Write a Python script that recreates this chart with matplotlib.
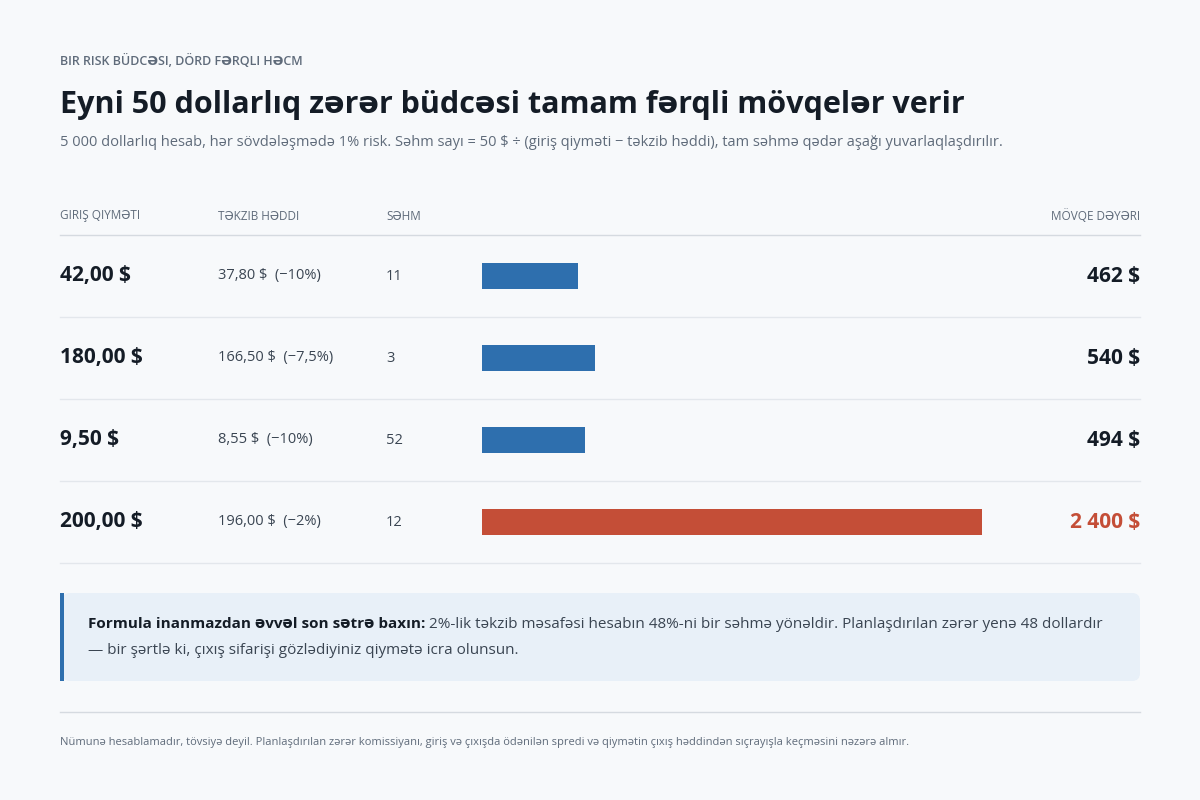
import matplotlib
matplotlib.use('Agg')
import matplotlib.pyplot as plt
from matplotlib.patches import FancyBboxPatch, Rectangle

plt.rcParams['font.family'] = ['Open Sans', 'DejaVu Sans']

entry_labels = ['42,00 $', '180,00 $', '9,50 $', '200,00 $']
stop_labels = ['37,80 $  (\u221210%)', '166,50 $  (\u22127,5%)', '8,55 $  (\u221210%)', '196,00 $  (\u22122%)']
shares = [11, 3, 52, 12]
position_values = [462, 540, 494, 2400]
value_labels = ['462 $', '540 $', '494 $', '2 400 $']
highlight = [False, False, False, True]

BG = '#f7f9fb'
DARK = '#141c26'
GREY = '#5f6b7a'
BLUE = '#2e6fae'
RED = '#c44e37'

fig = plt.figure(figsize=(12, 8), dpi=100, facecolor=BG)
ax = fig.add_axes([0, 0, 1, 1])
ax.set_xlim(0, 1200)
ax.set_ylim(800, 0)
ax.axis('off')

ax.text(60, 61, 'BIR RISK BÜDCƏSI, DÖRD FƏRQLI HƏCM', fontsize=9, color=GREY,
        fontweight='semibold', va='center')
ax.text(60, 105, 'Eyni 50 dollarlıq zərər büdcəsi tamam fərqli mövqelər verir',
        fontsize=22, color=DARK, fontweight='bold', va='center')
ax.text(60, 142, '5 000 dollarlıq hesab, hər sövdələşmədə 1% risk. Səhm sayı = 50 $ ÷ '
        '(giriş qiyməti − təkzib həddi), tam səhmə qədər aşağı yuvarlaqlaşdırılır.',
        fontsize=10.5, color=GREY, va='center')

for x, t in [(60, 'GIRIŞ QIYMƏTI'), (218, 'TƏKZIB HƏDDI'), (386, 'SƏHM')]:
    ax.text(x, 216, t, fontsize=8.5, color=GREY, va='center')
ax.text(1140, 216, 'MÖVQE DƏYƏRI', fontsize=8.5, color=GREY, va='center', ha='right')
ax.plot([60, 1140], [235, 235], color='#d5dae0', lw=1)

row_y = [276, 358, 440, 522]
for i, y in enumerate(row_y):
    ax.text(60, y, entry_labels[i], fontsize=15, fontweight='bold', color=DARK, va='center')
    ax.text(218, y, stop_labels[i], fontsize=10.5, color='#3a4552', va='center')
    ax.text(386, y, str(shares[i]), fontsize=10.5, color='#3a4552', va='center')
    ax.text(1140, y, value_labels[i], fontsize=15, fontweight='bold',
            color=RED if highlight[i] else DARK, va='center', ha='right')
    ax.plot([60, 1140], [y + 41, y + 41], color='#e3e7ec', lw=1)

# bars in their own axes, scaled by position value
bax = fig.add_axes([482 / 1200, 1 - 563 / 800, 500 / 1200, 328 / 800])
bax.set_xlim(0, 2400)
bax.set_ylim(563, 235)
bax.axis('off')
bax.patch.set_alpha(0)
bax.barh(row_y, position_values, height=26,
         color=[RED if h else BLUE for h in highlight])

# callout box
ax.add_patch(FancyBboxPatch((62, 593), 1078, 88, boxstyle='round,pad=0,rounding_size=8',
                            fc='#e8f0f8', ec='none'))
ax.add_patch(Rectangle((60, 593), 4, 88, fc=BLUE, ec='none'))
bold = ax.text(88, 624, 'Formula inanmazdan əvvəl son sətrə baxın:', fontsize=11,
               fontweight='bold', color=DARK, va='center')
fig.canvas.draw()
bb = bold.get_window_extent()
x_end = bb.x1
ax.annotate(' 2%-lik təkzib məsafəsi hesabın 48%-ni bir səhmə yönəldir. Planlaşdırılan zərər yenə 48 dollardır',
            xy=(x_end, 800 - 624), xycoords='figure pixels', fontsize=11, color='#3a4552', va='center')
ax.text(88, 651, '— bir şərtlə ki, çıxış sifarişi gözlədiyiniz qiymətə icra olunsun.',
        fontsize=11, color='#3a4552', va='center')

ax.plot([60, 1140], [712, 712], color='#d5dae0', lw=1)
ax.text(60, 742, 'Nümunə hesablamadır, tövsiyə deyil. Planlaşdırılan zərər komissiyanı, giriş və çıxışda '
        'ödənilən spredi və qiymətin çıxış həddindən sıçrayışla keçməsini nəzərə almır.',
        fontsize=8, color=GREY, va='center')

fig.savefig('out.png', dpi=100, facecolor=BG)
